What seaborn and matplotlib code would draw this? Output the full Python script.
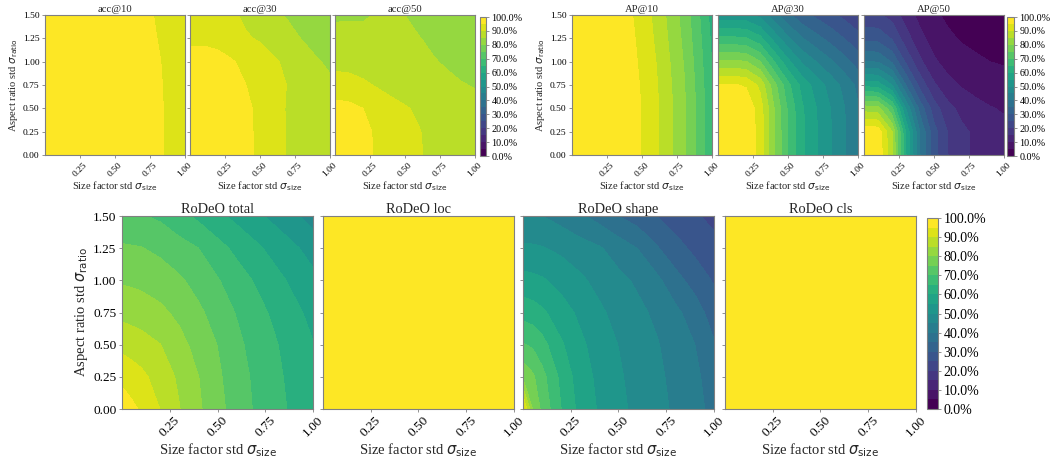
import numpy as np
import matplotlib
matplotlib.use("Agg")
import matplotlib.pyplot as plt
import seaborn as sns

# ---------------- data ----------------
size_std = [0.0, 0.05, 0.1, 0.2, 0.3, 0.4, 0.5, 0.6, 0.7, 0.8, 0.9, 1.0]
ratio_std = [0.0, 0.25, 0.5, 0.75, 1.0, 1.25, 1.5]

acc10 = [
    [100, 100, 100, 100, 100, 99.8, 99.5, 99, 98.5, 97, 93, 91],
    [100, 100, 100, 100, 100, 99.8, 99.5, 99, 98.5, 97, 93, 91],
    [100, 100, 100, 100, 99.8, 99.6, 99.3, 98.8, 98, 96.8, 92.8, 90.8],
    [100, 100, 100, 99.8, 99.6, 99.4, 99, 98.5, 97.5, 96.5, 92.6, 90.6],
    [99.8, 99.8, 99.8, 99.6, 99.4, 99.2, 98.8, 98, 97, 96, 92.4, 90.4],
    [99.6, 99.6, 99.6, 99.4, 99.2, 99, 98.5, 97.6, 96.5, 95, 92.2, 90.2],
    [99.5, 99.5, 99.5, 99.3, 99, 98.8, 98.2, 97.4, 96.2, 94.6, 92, 90.2],
]
acc30 = [
    [99, 99, 99, 98.5, 97.5, 96, 94, 92, 89.5, 88, 87, 86],
    [99, 99, 99, 98.5, 97.5, 96, 94, 92, 89.5, 88, 87, 86],
    [98.5, 98.5, 98.5, 98, 97, 95.8, 94, 91.8, 89.5, 88, 87, 86],
    [98, 98, 98, 97.5, 96.5, 95, 93.5, 91.5, 89.8, 88, 86.5, 85.5],
    [97, 97, 97, 96.5, 95.3, 94, 92.5, 90.6, 89, 87.5, 85.3, 84.5],
    [94, 94, 94, 93.5, 92.5, 90.5, 89.5, 88, 86.5, 84.8, 84, 83.5],
    [93, 93, 93, 92.5, 90.8, 89, 87.5, 85.8, 84.5, 83.5, 83, 82.5],
]
acc50 = [
    [99, 98.8, 98.5, 97.5, 94, 93, 91.5, 90.4, 89, 88, 87.5, 87],
    [98.5, 98.3, 98, 97, 93.8, 92.8, 91.3, 90.2, 88.8, 87.8, 87.3, 86.8],
    [96.5, 96.4, 96.2, 95, 93, 91.5, 90.4, 89.3, 88, 87, 86.5, 86],
    [92, 92, 91.8, 90.8, 89.6, 88.5, 87.6, 86.8, 86.2, 85.6, 85.2, 84.8],
    [88.5, 88.4, 88.3, 87.8, 87.2, 86.6, 86, 85.6, 85.2, 84.7, 84, 83.5],
    [86.5, 86.5, 86.4, 86, 86, 85.8, 85.5, 85.1, 84.5, 83.8, 83, 82.5],
    [84.3, 84.4, 84.5, 84.6, 85.2, 85.5, 85, 84.2, 83.5, 82.5, 81.5, 81],
]
ap10 = [
    [100, 100, 100, 99.5, 99, 97.5, 94.8, 91, 86, 81, 74, 66],
    [100, 100, 100, 99.5, 99, 97.5, 94.8, 91, 86, 81, 74, 66],
    [100, 100, 100, 99.5, 99, 97.5, 94.8, 91, 86, 80.8, 73.8, 65.8],
    [99.8, 99.8, 99.8, 99.3, 98.8, 97.3, 94.5, 90.6, 85.6, 80.4, 73.4, 65.4],
    [99.5, 99.5, 99.5, 99, 98.5, 97, 94, 90, 85, 79.7, 72.7, 64.8],
    [99.2, 99.2, 99.2, 98.8, 98.2, 96.6, 93.5, 89.2, 84.2, 78.9, 71.9, 64],
    [99, 99, 99, 98.5, 98, 96, 93, 88.5, 83.5, 78, 71, 63],
]
ap30 = [
    [100, 100, 100, 99, 93, 80.5, 69.5, 61, 55.5, 50.5, 45.5, 40.5],
    [100, 100, 100, 99, 93, 80.5, 69.5, 61, 55.5, 50.5, 45.5, 40.5],
    [99.5, 99.5, 99.5, 98.5, 92.5, 80.1, 69.2, 60.7, 55.2, 50.2, 45.3, 40.3],
    [95.5, 95.5, 95.5, 94.5, 88.8, 76.9, 66.4, 58.3, 53, 48.2, 43.5, 38.7],
    [81, 81, 81, 80.2, 75.3, 65.2, 56.3, 49.4, 45, 40.9, 36.9, 32.8],
    [66, 66, 66, 65.3, 61.4, 53.1, 45.9, 40.3, 36.6, 33.3, 30, 26.7],
    [52, 52, 52, 51.5, 48.4, 41.9, 36.1, 31.7, 28.9, 26.3, 23.7, 21.1],
]
ap50 = [
    [100, 99.8, 99, 86, 60, 40, 27, 20, 16.3, 14, 12.5, 11.5],
    [99, 98.8, 98, 85.1, 59.4, 39.6, 26.7, 19.8, 16.1, 13.9, 12.4, 11.4],
    [82.5, 82.3, 81.7, 71, 49.5, 33, 22.3, 16.5, 13.4, 11.6, 10.3, 9.5],
    [58, 57.9, 57.4, 49.9, 34.8, 23.2, 15.7, 11.6, 9.5, 8.1, 7.3, 6.7],
    [40, 39.9, 39.6, 34.4, 24, 16, 10.8, 8, 6.5, 5.6, 5, 4.6],
    [28.5, 28.4, 28.2, 24.5, 17.1, 11.4, 7.7, 5.7, 4.6, 4, 3.6, 3.3],
    [21, 21, 20.8, 18.1, 12.6, 8.4, 5.7, 4.2, 3.4, 2.9, 2.6, 2.4],
]
rodeo_total = [
    [97.5, 96.1, 94.4, 89.9, 85.2, 80.8, 76.6, 72.8, 69.4, 66.7, 64.0, 61.3],
    [93.9, 92.5, 91.2, 87.9, 84.1, 80.1, 75.9, 72.2, 69.0, 66.2, 63.5, 60.9],
    [88.5, 87.7, 87.0, 85.1, 81.6, 78.2, 74.9, 71.2, 68.1, 65.5, 62.6, 60.2],
    [83.6, 83.1, 82.6, 81.1, 78.8, 76.0, 72.8, 69.7, 66.7, 64.0, 61.2, 58.6],
    [79.4, 79.1, 78.7, 77.5, 75.7, 73.2, 70.4, 67.2, 64.5, 61.6, 58.9, 56.3],
    [75.6, 75.4, 75.2, 73.9, 72.0, 70.0, 66.7, 63.8, 61.0, 58.3, 55.8, 53.0],
    [71.5, 71.1, 70.5, 69.1, 66.5, 63.9, 61.2, 58.6, 56.2, 53.6, 50.8, 48.0],
]
rodeo_loc = [
    [100] * 12, [100] * 12, [100] * 12, [100] * 12, [100] * 12, [100] * 12, [100] * 12,
]
rodeo_shape = [
    [97, 80, 73.7, 65, 58.3, 54.4, 51.25, 48.7, 46.5, 44.2, 41.6, 38.5],
    [78.9, 75.9, 71.7, 63.65, 57.4, 53.75, 50.7, 48.1, 46, 43.7, 41.1, 37.5],
    [70.3, 69.25, 66.8, 60.65, 56.1, 52.6, 49.9, 47.3, 45.4, 42.75, 40, 35.5],
    [63.1, 62.25, 60.9, 57.2, 53.9, 50.9, 48.3, 46.2, 44, 41.1, 37.5, 32.5],
    [56.7, 56.2, 55.6, 53.3, 50.9, 48.45, 46.3, 44.2, 41.2, 36.7, 33, 29.5],
    [50.9, 50.7, 50.3, 48.9, 47.1, 45.5, 42.7, 39.9, 35.5, 31.8, 28.8, 26.5],
    [45.3, 45.2, 45.05, 43.1, 40.7, 38.1, 35, 32.6, 30, 27.5, 25.5, 23.8],
]
rodeo_cls = [
    [100] * 12, [100] * 12, [100] * 12, [100] * 12, [100] * 12, [100] * 12, [100] * 12,
]

x_ticks = [0.25, 0.5, 0.75, 1.0]
y_ticks = [0.0, 0.25, 0.5, 0.75, 1.0, 1.25, 1.5]
cbar_ticks = [0, 10, 20, 30, 40, 50, 60, 70, 80, 90, 100]
levels = [0, 5, 10, 15, 20, 25, 30, 35, 40, 45, 50, 55, 60, 65, 70, 75, 80, 85, 90, 95, 100]

# ---------------- style ----------------
sns.set_theme(style="ticks")
plt.rcParams["font.family"] = ["Liberation Serif", "DejaVu Serif"]
plt.rcParams["mathtext.fontset"] = "dejavusans"
plt.rcParams["axes.edgecolor"] = "#808080"
plt.rcParams["xtick.color"] = "#808080"
plt.rcParams["ytick.color"] = "#808080"
plt.rcParams["xtick.labelcolor"] = "black"
plt.rcParams["ytick.labelcolor"] = "black"
plt.rcParams["axes.linewidth"] = 0.8

cmap = sns.color_palette("viridis", as_cmap=True).resampled(len(levels) - 1)
X, Y = np.meshgrid(size_std, ratio_std)

fig = plt.figure(figsize=(10.51, 4.59), dpi=100)

XLAB = r"Size factor std $\sigma_{\mathrm{size}}$"
YLAB = r"Aspect ratio std $\sigma_{\mathrm{ratio}}$"


def panel(rect, Z, title, show_y, fs_tick, fs_lab, fs_title):
    ax = fig.add_axes(rect)
    cs = ax.contourf(X, Y, np.array(Z, dtype=float), levels=levels, cmap=cmap,
                     vmin=0, vmax=100)
    ax.set_xlim(0, 1)
    ax.set_ylim(0, 1.5)
    ax.set_xticks(x_ticks)
    ax.set_xticklabels([f"{t:.2f}" for t in x_ticks], rotation=45, fontsize=fs_tick)
    ax.set_yticks(y_ticks)
    if show_y:
        ax.set_yticklabels([f"{t:.2f}" for t in y_ticks], fontsize=fs_tick)
        ax.set_ylabel(YLAB, fontsize=fs_lab, labelpad=2)
    else:
        ax.set_yticklabels([])
    ax.set_xlabel(XLAB, fontsize=fs_lab, labelpad=1)
    ax.set_title(title, fontsize=fs_title, pad=2)
    ax.tick_params(length=2.5, width=0.6, pad=1.5)
    for s in ax.spines.values():
        s.set_color("#808080")
    return cs


def cbar(cs, rect, fs):
    cax = fig.add_axes(rect)
    cb = fig.colorbar(cs, cax=cax, ticks=cbar_ticks)
    cb.ax.set_yticklabels([f"{t:.1f}%" for t in cbar_ticks], fontsize=fs)
    cb.ax.tick_params(length=2.5, width=0.6, pad=1.5, color="#808080")
    cb.outline.set_edgecolor("#808080")
    cb.outline.set_linewidth(0.8)


# top rows
tb, th, tw = 0.6623, 0.305, 0.1332
fsT = dict(fs_tick=6.8, fs_lab=7.6, fs_title=7.7)
panel([0.0428, tb, tw, th], acc10, "acc@10", True, **fsT)
panel([0.1808, tb, tw, th], acc30, "acc@30", False, **fsT)
cs = panel([0.3187, tb, tw, th], acc50, "acc@50", False, **fsT)
cbar(cs, [0.4567, 0.6601, 0.0057, 0.3028], 7.3)

panel([0.5442, tb, tw, th], ap10, "AP@10", True, **fsT)
panel([0.6832, tb, tw, th], ap30, "AP@30", False, **fsT)
cs = panel([0.8221, tb, tw, th], ap50, "AP@50", False, **fsT)
cbar(cs, [0.9581, 0.6601, 0.0067, 0.3028], 7.3)

# bottom row
bb, bh, bw = 0.1089, 0.4205, 0.1817
fsB = dict(fs_tick=9.6, fs_lab=10.5, fs_title=10.4)
panel([0.1161, bb, bw, bh], rodeo_total, "RoDeO total", True, **fsB)
panel([0.3073, bb, bw, bh], rodeo_loc, "RoDeO loc", False, **fsB)
panel([0.4976, bb, bw, bh], rodeo_shape, "RoDeO shape", False, **fsB)
cs = panel([0.6898, bb, bw, bh], rodeo_cls, "RoDeO cls", False, **fsB)
cbar(cs, [0.882, 0.1089, 0.0105, 0.416], 10)

fig.savefig("out.png", dpi=100)
